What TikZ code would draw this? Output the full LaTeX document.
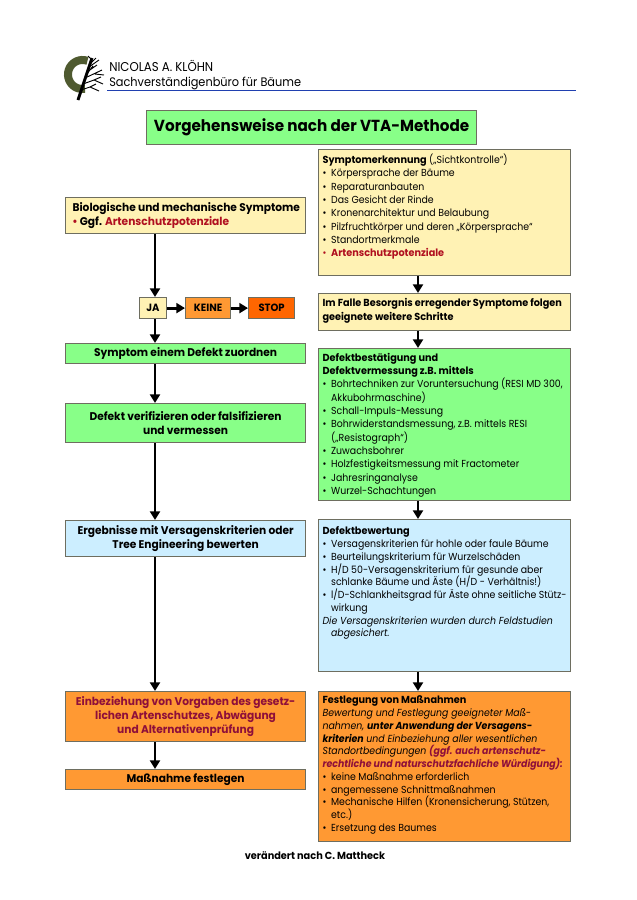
\documentclass[tikz,border=0pt]{standalone}
\usepackage{fontspec}
\setmainfont{Poppins}[FakeStretch=0.92,BoldFeatures={FakeStretch=0.95},BoldItalicFeatures={FakeStretch=0.92}]
\usetikzlibrary{arrows.meta}
\definecolor{edgegray}{HTML}{6E6E60}
\definecolor{cyellow}{HTML}{FFF2B4}
\definecolor{cgreen}{HTML}{88FF88}
\definecolor{cblue}{HTML}{CCEEFF}
\definecolor{corange}{HTML}{FF9933}
\definecolor{cstop}{HTML}{FF6600}
\definecolor{cred}{HTML}{B01020}
\definecolor{cwine}{HTML}{8E0F3A}
\definecolor{olive}{HTML}{4F5A30}
\definecolor{lineblue}{HTML}{2040B0}
\newcommand\body[2]{\parbox[c][\dimexpr #1pt*3/4\relax][t]{183pt}{\fontsize{7.65}{10}\selectfont\raggedright\let\\\newline\vspace*{3.2pt}#2}}
\newcommand\bul{\makebox[6.4pt][l]{\textbullet}}
\newcommand\itm[1]{\par\hangindent=6.4pt\hangafter=1\noindent\bul #1}
\newcommand\rtm[1]{\par\hangindent=6.4pt\hangafter=1\noindent{\color{cred}\bul\textbf{#1}}}
\newcommand\tightlines{\fontsize{7.65}{9.58}\selectfont}
\tikzset{
  x=0.75pt,y=-0.75pt,
  boxbase/.style={draw=edgegray,line width=0.9pt,anchor=north west,inner ysep=0pt,inner xsep=3pt},
  rightbox/.style={boxbase,minimum width=189pt},
  leftbox/.style={boxbase,minimum width=180pt,align=center,font=\fontsize{8.4}{10.4}\selectfont\bfseries},
  smallbox/.style={boxbase,align=center,inner xsep=0pt,font=\fontsize{7.9}{10}\selectfont\bfseries},
  flow/.style={line width=2.2pt,-{Triangle[width=7.5pt,length=6.5pt]}},
}
\begin{document}
\begin{tikzpicture}
\useasboundingbox (0,0) rectangle (636,900);
% header
\draw[olive,line width=6pt] (82.5,74.5) ++(70:10.9pt) arc[start angle=70,end angle=280,radius=10.9pt];
\draw[line width=2.2pt] (78,100) -- (92,58);
\draw[line width=0.7pt] (87,72) -- (97,65) (89,67) -- (99,60) (85,78) -- (102,70) (95,74) -- (104,75) (83,84) -- (94,80) -- (103,84) (81,90) -- (90,87) -- (99,91) (86,75) -- (93,66) (94,80) -- (101,77) (90,87) -- (96,84) (92,60) -- (88,56) (91,63) -- (96,58);
\node[anchor=base west,inner sep=0pt,font=\fontsize{9.6}{10}\selectfont] (firm) at (109,71) {NICOLAS A. KLÖHN};
\node[anchor=base west,inner sep=0pt,font=\fontsize{9.25}{10}\selectfont] (office) at (109,86) {Sachverständigenbüro für Bäume};
\draw[lineblue,line width=1pt] (107,90.5) -- (576,90.5);
% title
\node[boxbase,fill=cgreen,minimum width=247.5pt,minimum height=25.5pt,font=\fontsize{12}{14}\selectfont\bfseries] (title) at (146,110) {Vorgehensweise nach der VTA-Methode};
% right column
\node[rightbox,fill=cyellow] (r1) at (318,149) {\body{126}{\textbf{Symptomerkennung} („Sichtkontrolle“)
\itm{Körpersprache der Bäume}\itm{Reparaturanbauten}\itm{Das Gesicht der Rinde}\itm{Kronenarchitektur und Belaubung}\itm{Pilzfruchtkörper und deren „Körpersprache“}\itm{Standortmerkmale}\rtm{Artenschutzpotenziale}}};
\node[rightbox,fill=cyellow] (r2) at (318,293) {\body{37}{\vspace*{0.7pt}\textbf{Im Falle Besorgnis erregender Symptome folgen\\ geeignete weitere Schritte}}};
\node[rightbox,fill=cgreen] (r3) at (318,348) {\body{152}{\textbf{Defektbestätigung und\\ Defektvermessung z.B. mittels}
\itm{Bohrtechniken zur Voruntersuchung (RESI MD 300,\\ Akkubohrmaschine)}\itm{Schall-Impuls-Messung}\itm{Bohrwiderstandsmessung, z.B. mittels RESI\\ („Resistograph“)}\itm{Zuwachsbohrer}\itm{Holzfestigkeitsmessung mit Fractometer}\itm{Jahresringanalyse}\itm{Wurzel-Schachtungen}}};
\node[rightbox,fill=cblue] (r4) at (318,519) {\body{152}{\tightlines\vspace*{2.2pt}\textbf{Defektbewertung}
\itm{Versagenskriterien für hohle oder faule Bäume}\itm{Beurteilungskriterium für Wurzelschäden}\itm{H/D 50-Versagenskriterium für gesunde aber\\ schlanke Bäume und Äste (H/D - Verhältnis!)}\itm{l/D-Schlankheitsgrad für Äste ohne seitliche Stütz-\\ wirkung}
\par\hangindent=6.4pt\hangafter=1\noindent\textit{Die Versagenskriterien wurden durch Feldstudien\\ abgesichert.}}};
\node[rightbox,fill=corange] (r5) at (318,691) {\body{150}{\tightlines\textbf{Festlegung von Maßnahmen}\\
\textit{Bewertung und Festlegung geeigneter Maß-\\ nahmen, \textbf{unter Anwendung der Versagens-\\ kriterien} und Einbeziehung aller wesentlichen\\ Standortbedingungen {\color{cwine}\textbf{(ggf. auch artenschutz-\\ rechtliche und naturschutzfachliche Würdigung):}}}
\itm{keine Maßnahme erforderlich}\itm{angemessene Schnittmaßnahmen}\itm{Mechanische Hilfen (Kronensicherung, Stützen,\\ etc.)}\itm{Ersetzung des Baumes}}};
% left column
\node[leftbox,fill=cyellow,minimum height=27pt] (biol) at (65,197) {\hspace*{1pt}Biologische und mechanische Symptome\\[0.5pt] {\color{cred}\makebox[171pt][l]{\hspace*{0.5pt}\textbullet\ {\color{black}Ggf.} Artenschutzpotenziale}}};
\node[smallbox,fill=cyellow,minimum width=20pt,minimum height=15.75pt] (ja) at (139,297) {JA};
\node[smallbox,fill=corange,minimum width=33.75pt,minimum height=15.75pt] (keine) at (185,297) {KEINE};
\node[smallbox,fill=cstop,minimum width=34.5pt,minimum height=15.75pt] (stop) at (248,297) {STOP};
\node[leftbox,fill=cgreen,minimum height=15pt] (sym) at (65,343) {Symptom einem Defekt zuordnen};
\node[leftbox,fill=cgreen,minimum height=29.25pt] (ver) at (65,403) {Defekt verifizieren oder falsifizieren\\ und vermessen};
\node[leftbox,fill=cblue,minimum height=27pt] (erg) at (65,520) {Ergebnisse mit Versagenskriterien oder\\ Tree Engineering bewerten};
\node[leftbox,fill=corange,minimum height=37.5pt,text=cwine] (ein) at (65,691) {Einbeziehung von Vorgaben des gesetz-\\ lichen Artenschutzes, Abwägung\\ und Alternativenprüfung};
\node[leftbox,fill=corange,minimum height=15pt] (mass) at (65,769) {Maßnahme festlegen};
\node[anchor=base,inner sep=0pt,font=\fontsize{7.7}{10}\selectfont\bfseries] (credit) at (315,859) {verändert nach C. Mattheck};
% connectors
\coordinate (spine) at (155,0);
\coordinate (rspine) at (418,0);
\draw[flow] (biol.south -| spine) -- (ja.north -| spine);
\draw[flow] (ja.south -| spine) -- (sym.north -| spine);
\draw[flow] (ja.east) -- (keine.west);
\draw[flow] (keine.east) -- (stop.west);
\draw[flow] (sym.south -| spine) -- (ver.north -| spine);
\draw[flow] (ver.south -| spine) -- (erg.north -| spine);
\draw[flow] (erg.south -| spine) -- (ein.north -| spine);
\draw[flow] (ein.south -| spine) -- (mass.north -| spine);
\draw[flow] (r1.south -| rspine) -- (r2.north -| rspine);
\draw[flow] (r2.south -| rspine) -- (r3.north -| rspine);
\draw[flow] (r3.south -| rspine) -- (r4.north -| rspine);
\draw[flow] (r4.south -| rspine) -- (r5.north -| rspine);
\end{tikzpicture}
\end{document}
